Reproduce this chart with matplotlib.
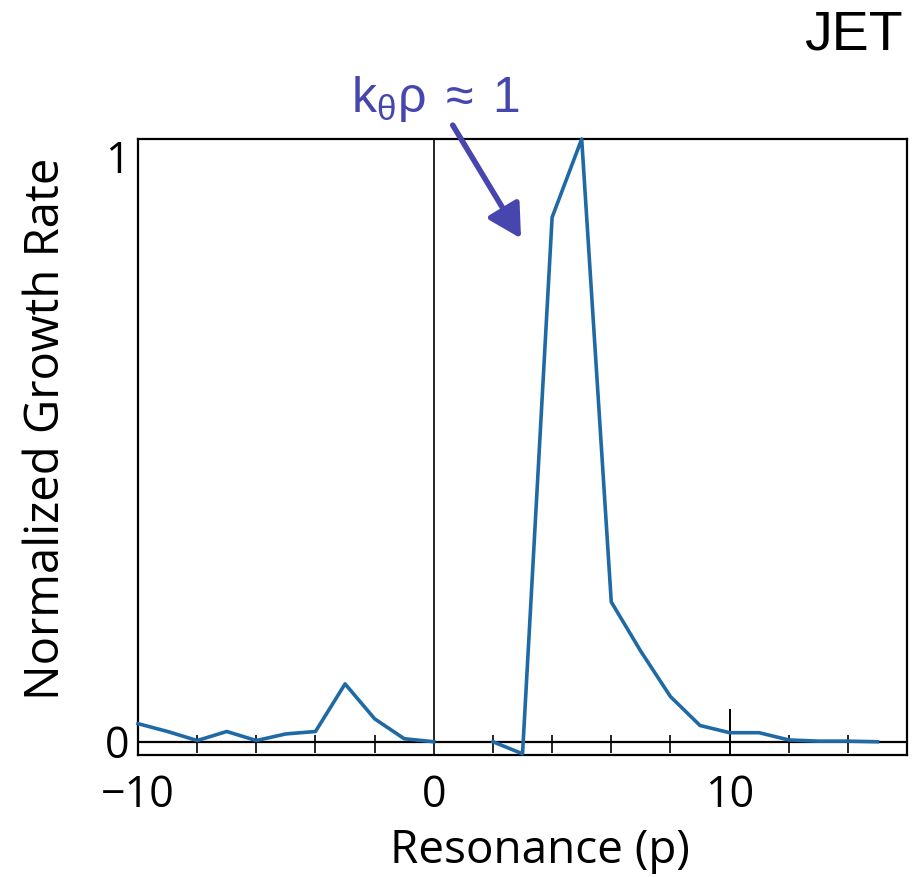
import matplotlib
matplotlib.use("Agg")
import matplotlib.pyplot as plt
import numpy as np

# growth rate vs resonance number, normalized to the peak
resonance = [-10, -9, -8, -7, -6, -5, -4, -3, -2, -1, 0, 1, 2, 3, 4, 5, 6, 7, 8, 9, 10, 11, 12, 13, 14, 15]
growth = [0.030, 0.017, 0.002, 0.017, 0.002, 0.013, 0.017, 0.096, 0.038, 0.005, 0.0,
          np.nan, 0.0, -0.020, 0.870, 1.0, 0.232, 0.150, 0.075, 0.027, 0.015, 0.015,
          0.003, 0.001, 0.001, 0.0]

xticks = [-10, 0, 10]
minor_marks = [-8, -6, -4, -2, 2, 4, 6, 8, 12, 14]
yticks = [0, 1]

line_color = "#1f6aa5"
note_color = "#4646ae"

plt.rcParams['mathtext.fontset'] = 'custom'
plt.rcParams['mathtext.rm'] = 'Liberation Sans'
plt.rcParams['mathtext.it'] = 'Liberation Sans'

fig = plt.figure(figsize=(9.16, 8.77), dpi=100)
ax = fig.add_axes([0.1507, 0.1391, 0.8395, 0.7024])

ax.plot(resonance, growth, color=line_color, lw=2.6, zorder=4, clip_on=False)

# zero line and the vertical line at p = 0
ax.axhline(0, color="black", lw=1.6, zorder=3)
ax.axvline(0, color="black", lw=1.2, zorder=3)
ax.vlines(minor_marks, -0.018, 0.012, color="black", lw=1.2, zorder=3)
ax.vlines([10], -0.022, 0.055, color="black", lw=1.4, zorder=3)

ax.set_xlim(-10, 16)
ax.set_ylim(-0.022, 1.0)

for s in ax.spines.values():
    s.set_linewidth(1.6)

ax.set_xticks(xticks)
ax.set_xticklabels(["\u221210", "0", "10"], fontsize=31, family="Open Sans")
ax.set_yticks(yticks)
ax.set_yticklabels(["0", "1"], fontsize=31, family="Open Sans")
ax.tick_params(length=0)
ax.tick_params(axis="x", pad=13)
ax.tick_params(axis="y", pad=6)
ax.get_yticklabels()[1].set_va("top")

ax.set_xlabel("Resonance (p)", fontsize=33, family="Open Sans")
ax.xaxis.set_label_coords(0.523, -0.118)
ax.set_ylabel("Normalized Growth Rate", fontsize=34, family="Open Sans")
ax.yaxis.set_label_coords(-0.088, 0.53)

fig.text(0.986, 0.96, "JET", fontsize=40, family="Liberation Sans",
         ha="right", va="center")

# label for the peak mode, with an arrow to the p = 4 point
ax.text(-2.8, 1.045, r"$\mathrm{k_{\theta}\rho\;\approx\;1}$", fontsize=36,
        color=note_color, ha="left", va="baseline", clip_on=False)
ax.annotate("", xy=(2.95, 0.835), xytext=(0.64, 1.023),
            annotation_clip=False,
            arrowprops=dict(arrowstyle="-|>,head_length=2.0,head_width=1.1",
                            color=note_color, lw=4, shrinkA=0, shrinkB=0))

fig.savefig("out.png", dpi=100)
